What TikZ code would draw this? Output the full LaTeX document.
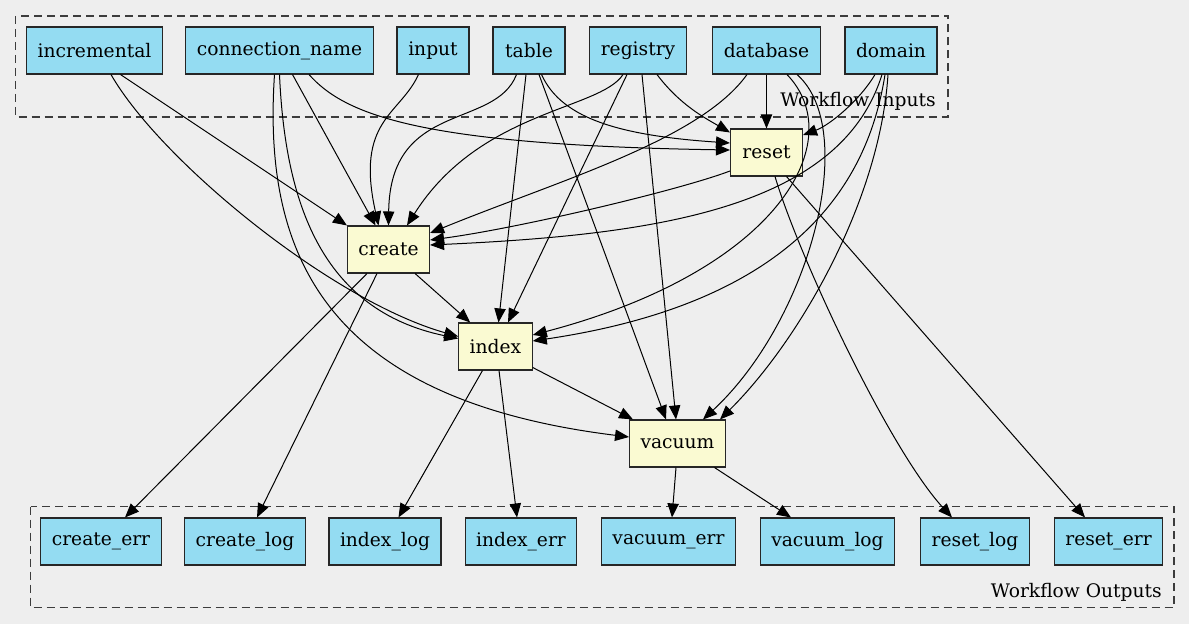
\documentclass[tikz,border=0pt]{standalone}
\usepackage{fontspec}
\setmainfont{DejaVu Serif}
\usetikzlibrary{arrows.meta, calc}
\definecolor{bgcol}{HTML}{EEEEEE}
\definecolor{iofill}{HTML}{94DCF2}
\definecolor{taskfill}{HTML}{FAFAD2}
\definecolor{clusterline}{HTML}{3C3C3C}

\begin{document}
\begin{tikzpicture}[x=0.75pt, y=-0.75pt,
    every node/.style={font=\fontsize{14}{17}\selectfont},
    box/.style={draw=black!85, line width=0.8pt, minimum height=35.25pt, minimum width=54pt, inner xsep=8.25pt, inner ysep=0pt},
    io/.style={box, fill=iofill},
    task/.style={box, fill=taskfill},
    flow/.style={line width=0.75pt, -{Triangle[length=10.5pt, width=8.5pt]}},
    cluster/.style={draw=clusterline, line width=0.9pt, dash pattern=on 6pt off 3.75pt}]

        % Canvas
        \fill[bgcol] (0,0) rectangle (1189,624);
        \useasboundingbox (0,0) rectangle (1189,624);

        % Clusters
        \draw[cluster] (15.5,16) rectangle (948,117);
        \node[anchor=east, inner sep=0pt] (inlabel) at (936,101) {Workflow Inputs};
        \draw[cluster] (30.5,506.5) rectangle (1174,607.5);
        \node[anchor=east, inner sep=0pt] (outlabel) at (1162,592) {Workflow Outputs};

        % Workflow inputs
        \node[io] (inc) at (94.5,50.5) {incremental};
        \node[io] (conn) at (279.5,50.5) {connection\_name};
        \node[io] (inp) at (433,50.5) {input};
        \node[io] (tbl) at (529,50.5) {table};
        \node[io] (reg) at (638,50.5) {registry};
        \node[io] (db) at (766.5,50.5) {database};
        \node[io] (dom) at (891,50.5) {domain};

        % Steps
        \node[task] (reset) at (766.5,152.5) {reset};
        \node[task] (create) at (388.5,249.5) {create};
        \node[task] (index) at (495.5,346.5) {index};
        \node[task] (vacuum) at (677.5,443.5) {vacuum};

        % Workflow outputs
        \node[io] (cerr) at (101,541.5) {create\_err};
        \node[io] (clog) at (245,541.5) {create\_log};
        \node[io] (ilog) at (385,541.5) {index\_log};
        \node[io] (ierr) at (521,541.5) {index\_err};
        \node[io] (verr) at (668.5,541.5) {vacuum\_err};
        \node[io] (vlog) at (827.5,541.5) {vacuum\_log};
        \node[io] (rlog) at (975,541.5) {reset\_log};
        \node[io] (rerr) at (1108.5,541.5) {reset\_err};

        % incremental
        \draw[flow] ($(inc.south)+(26,0)$) -- (create.north west);
        \draw[flow] ($(inc.south)+(16.5,0)$) .. controls (160,160) and (330,300) .. ($(index.west)+(0,-10)$);

        % connection_name
        \draw[flow] ($(conn.south)+(13,0)$) -- ($(create.north)+(-13,0)$);
        \draw[flow] ($(conn.south)+(29.5,0)$) .. controls (345,115) and (420,145) .. ($(reset.west)+(0,-2.5)$);
        \draw[flow] (conn.south) .. controls (285,200) and (320,310) .. ($(index.west)+(0,-8)$);
        \draw[flow] ($(conn.south)+(-5,0)$) .. controls (262,260) and (330,400) .. ($(vacuum.west)+(0,-6.5)$);

        % input
        \draw[flow] ($(inp.south)+(-14.5,0)$) .. controls (400,115) and (355,120) .. ($(create.north)+(-10,0)$);

        % table
        \draw[flow] ($(tbl.south)+(-12.5,0)$) .. controls (495,130) and (390,100) .. (create.north);
        \draw[flow] ($(tbl.south)+(-3,0)$) -- ($(index.north)+(3,0)$);
        \draw[flow] ($(tbl.south)+(10,0)$) -- ($(vacuum.north)+(-11.5,0)$);
        \draw[flow] ($(tbl.south)+(12.5,0)$) .. controls (560,115) and (610,135) .. ($(reset.west)+(0,-9.5)$);

        % registry
        \draw[flow] ($(reg.south)+(-15,0)$) .. controls (600,110) and (480,110) .. ($(create.north)+(18.5,0)$);
        \draw[flow] ($(reg.south)+(-11,0)$) -- ($(index.north)+(12.5,0)$);
        \draw[flow] ($(reg.south)+(4,0)$) -- ($(vacuum.north)+(-1.5,0)$);
        \draw[flow] ($(reg.south)+(19,0)$) .. controls (680,105) and (705,118) .. ($(reset.north west)+(0,4)$);

        % database
        \draw[flow] ($(db.south)+(-19.5,0)$) .. controls (700,140) and (560,180) .. ($(create.east)+(0,-16.5)$);
        \draw[flow] (db.south) -- (reset.north);
        \draw[flow] ($(db.south)+(20.5,0)$) .. controls (850,140) and (780,270) .. ($(index.east)+(0,-11.5)$);
        \draw[flow] ($(db.south)+(30.5,0)$) .. controls (860,130) and (810,320) .. ($(vacuum.north)+(25.5,0)$);

        % domain
        \draw[flow] ($(dom.south)+(-16,0)$) .. controls (860,100) and (830,125) .. ($(reset.east)+(0,-17.5)$);
        \draw[flow] ($(dom.south)+(-9,0)$) .. controls (840,210) and (650,235) .. ($(create.east)+(0,-4.5)$);
        \draw[flow] ($(dom.south)+(-6,0)$) .. controls (870,170) and (810,300) .. ($(index.east)+(0,-5.5)$);
        \draw[flow] ($(dom.south)+(-3,0)$) .. controls (880,200) and (800,340) .. ($(vacuum.north)+(42.5,0)$);

        % reset
        \draw[flow] ($(reset.west)+(0,18.5)$) .. controls (680,190) and (520,228) .. ($(create.east)+(0,-9.5)$);
        \draw[flow] ($(reset.south)+(8.5,0)$) .. controls (800,260) and (890,450) .. ($(rlog.north)+(-23,0)$);
        \draw[flow] ($(reset.south)+(20,0)$) -- ($(rerr.north)+(-23.5,0)$);

        % create
        \draw[flow] ($(create.south east)+(-15,0)$) -- ($(index.north west)+(12,0)$);
        \draw[flow] ($(create.south)+(-21.5,0)$) -- ($(cerr.north)+(24,0)$);
        \draw[flow] ($(create.south)+(-11.5,0)$) -- ($(clog.north)+(12,0)$);

        % index
        \draw[flow] ($(index.south)+(-13,0)$) -- ($(ilog.north)+(13.5,0)$);
        \draw[flow] ($(index.south)+(3.5,0)$) -- ($(ierr.north)+(-4,0)$);
        \draw[flow] ($(index.south east)+(0,-3)$) -- ($(vacuum.north west)+(4,0)$);

        % vacuum
        \draw[flow] ($(vacuum.south)+(-1.5,0)$) -- ($(verr.north)+(3.5,0)$);
        \draw[flow] ($(vacuum.south)+(37,0)$) -- ($(vlog.north)+(-36.5,0)$);

    \end{tikzpicture}
\end{document}
